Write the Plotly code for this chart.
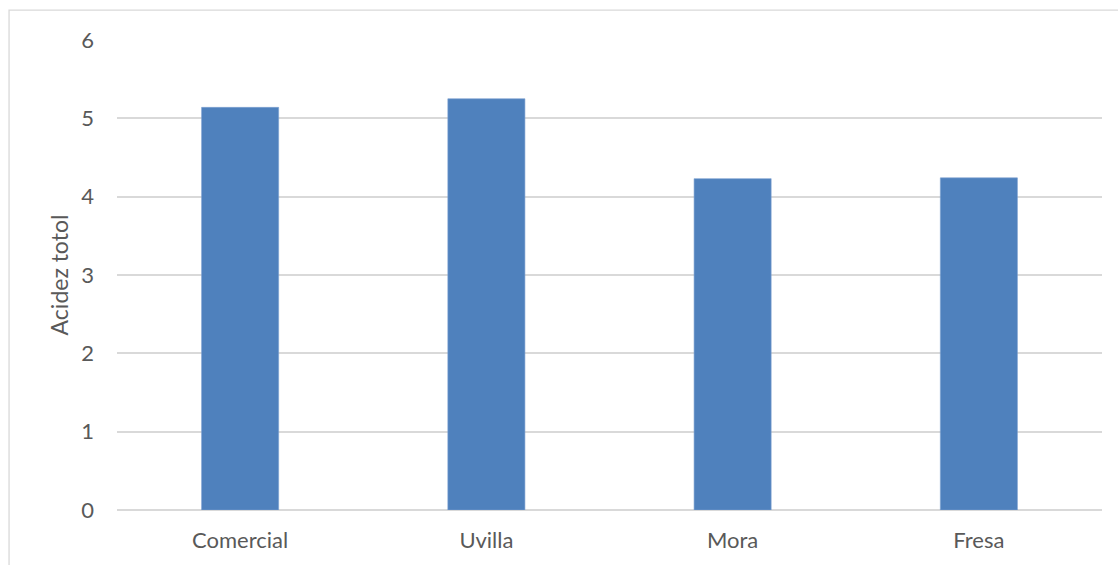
import plotly.graph_objects as go

categories = ["Comercial", "Uvilla", "Mora", "Fresa"]
acidez = [5.14, 5.25, 4.23, 4.24]
y_ticks = [0, 1, 2, 3, 4, 5, 6]

fig = go.Figure()
fig.add_trace(go.Bar(
    x=categories, y=acidez,
    marker=dict(color="#4f81bd", line=dict(color="#7aa0d0", width=0.6)),
    width=0.313,
))

font_family = "Lato, 'Liberation Sans', Arial, sans-serif"

fig.update_layout(
    width=1118, height=565,
    margin=dict(l=117, r=16, t=40, b=53),
    paper_bgcolor="white", plot_bgcolor="white",
    showlegend=False,
    font=dict(family=font_family, color="#595959", size=22),
    xaxis=dict(
        showgrid=False, showline=False, zeroline=False,
        ticks="", tickfont=dict(size=22, color="#595959"),
        ticklabelstandoff=15,
    ),
    yaxis=dict(
        range=[0, 6], tickvals=y_ticks,
        showgrid=True, gridcolor="#d9d9d9", gridwidth=1.5,
        zeroline=True, zerolinecolor="#d9d9d9", zerolinewidth=1.5,
        showline=False, ticks="",
        tickfont=dict(size=22, color="#595959"),
        ticklabelstandoff=22,
        title=dict(text="Acidez totol", font=dict(size=23, color="#595959"), standoff=6),
    ),
    shapes=[dict(
        type="rect", xref="paper", yref="paper",
        x0=-0.1096, x1=1.05, y0=-0.2, y1=1.0637,
        line=dict(color="#d9d9d9", width=1.3), fillcolor="rgba(0,0,0,0)",
        layer="below",
    )],
)

fig.write_html("out.html")
